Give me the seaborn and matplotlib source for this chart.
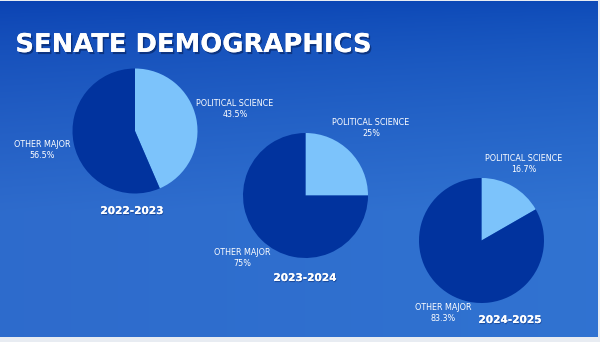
import numpy as np
import matplotlib
matplotlib.use("Agg")
import matplotlib.pyplot as plt
import matplotlib.patheffects as pe
import seaborn as sns

# ---- data ----
years = ["2022-2023", "2023-2024", "2024-2025"]
categories = ["POLITICAL SCIENCE", "OTHER MAJOR"]
poli_sci = [43.5, 25, 16.7]
other_major = [56.5, 75, 83.3]
title = "SENATE DEMOGRAPHICS"

sns.set_theme(style="white")
plt.rcParams['font.family'] = ['Liberation Sans Narrow', 'DejaVu Sans']
colors = sns.color_palette(["#7cc3fb", "#01339e"])

W, H = 600, 342
fig = plt.figure(figsize=(6.0, 3.42), dpi=100)
fig.patch.set_facecolor("#e8ecf2")

# background gradient
bg = fig.add_axes([0, 0, 1, 1])
bg.set_axis_off()
yy, xx = np.mgrid[0:1:200j, 0:1:300j]
top = np.array([0.04, 0.26, 0.70])
bot = np.array([0.18, 0.42, 0.80])
t = np.clip(yy * 1.6, 0, 1)[..., None] ** 0.7
grad = top * (1 - t) + bot * t
grad = grad + (xx[..., None] * np.array([0.01, 0.03, 0.02]))
bg.imshow(np.clip(grad, 0, 1), extent=[0, 598, 337, 1], aspect='auto', zorder=0)
bg.set_xlim(0, W)
bg.set_ylim(H, 0)

# main drawing axes in pixel coordinates (y up)
ax = fig.add_axes([0, 0, 1, 1])
ax.set_facecolor("none")

centers = [(135, 342 - 131), (305.5, 342 - 195.5), (481.5, 342 - 240.5)]
radius = 62.5
ps_label_pos = [(235, 342 - 109), (371, 342 - 128), (524, 342 - 164)]
om_label_pos = [(42, 342 - 150), (242, 342 - 258), (443, 342 - 313)]
year_pos = [(132, 342 - 211), (305, 342 - 278), (510, 342 - 320)]

for i, yr in enumerate(years):
    ax.pie([poli_sci[i], other_major[i]], colors=colors, startangle=90,
           counterclock=False, center=centers[i], radius=radius,
           wedgeprops=dict(linewidth=0))
    ax.text(*ps_label_pos[i], f"{categories[0]}\n{poli_sci[i]:g}%", color="white",
            fontsize=5.8, ha="center", va="center", linespacing=1.2)
    ax.text(*om_label_pos[i], f"{categories[1]}\n{other_major[i]:g}%", color="white",
            fontsize=5.8, ha="center", va="center", linespacing=1.2)
    ax.text(*year_pos[i], yr, color="white", fontsize=7.6, fontweight="bold",
            ha="center", va="center", family=["DejaVu Sans"],
            path_effects=[pe.withSimplePatchShadow(offset=(0.5, -0.8), shadow_rgbFace="#0a2a70", alpha=0.5), pe.Normal()])

ax.set_xlim(0, W)
ax.set_ylim(0, H)
ax.set_aspect("auto")
ax.set_axis_off()

ax.text(193.5, 342 - 45, title, color="white", fontsize=18.6, fontweight="heavy",
        ha="center", va="center", family=["DejaVu Sans"],
        path_effects=[pe.withSimplePatchShadow(offset=(1.2, -1.5), shadow_rgbFace="#06205a", alpha=0.6), pe.Normal()])

fig.savefig("out.png", dpi=100, facecolor=fig.get_facecolor())
